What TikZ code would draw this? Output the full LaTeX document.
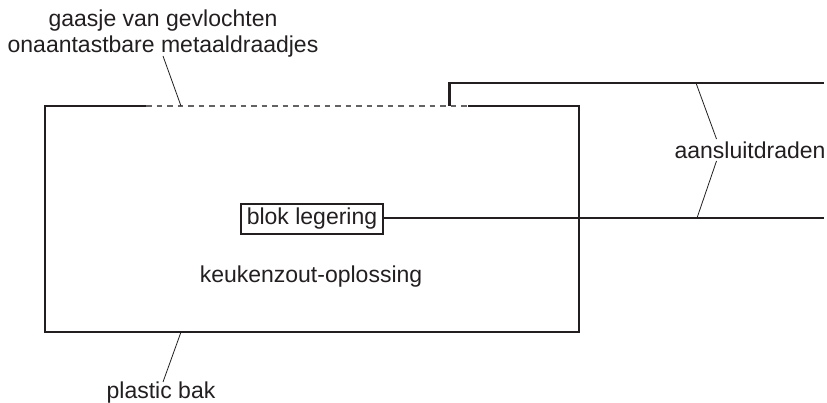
\documentclass[tikz,border=0pt]{standalone}
\usepackage{fontspec}
\setmainfont{Liberation Sans}
\usetikzlibrary{positioning}
\definecolor{inkt}{HTML}{231F20}

\begin{document}
\begin{tikzpicture}[x=1pt,y=-1pt,color=inkt,
                wand/.style={line width=1.4pt},
                draad/.style={line width=2.3pt},
                wijzer/.style={line width=0.8pt},
                gaas/.style={line width=1.1pt,dash pattern=on 5.5pt off 5pt,color=inkt!70},
                label node/.style={inner sep=0pt,font=\fontsize{23}{28}\selectfont},
                blok node/.style={draw,line width=1.2pt,minimum width=142pt,minimum height=30pt,
                  inner sep=0pt,font=\fontsize{23}{28}\selectfont}]
  \useasboundingbox (0,0) rectangle (827,403);

  % bak
  \coordinate (lb) at (45,106);
  \coordinate (rb) at (579,106);
  \coordinate (lo) at (45,332);
  \coordinate (ro) at (579,332);
  \coordinate (gaas1) at (146,106);
  \coordinate (gaas2) at (468,106);
  \draw[wand,line join=miter] (gaas1) -- (lb) -- (lo) -- (ro) -- (rb) -- (gaas2);
  \draw[gaas] (gaas1) -- (gaas2);

  % teksten
  \node[label node] (gaasje) at (163,21) {gaasje van gevlochten};
  \node[label node] (metaal) [below=4pt of gaasje] {onaantastbare metaaldraadjes};
  \node[label node] (aansluit) at (750,150) {aansluitdraden};
  \node[label node] (zout) at (311,277) {keukenzout-oplossing};
  \node[label node] (plastic) at (161,393) {plastic bak};
  \node[blok node] (blok) at (312,219) {blok legering};

  % draden
  \coordinate (d1) at (449.5,106);
  \coordinate (d2) at (449.5,83);
  \coordinate (d3) at (824,83);
  \coordinate (d4) at (824,218);
  \coordinate (blokr) at (blok.east |- d4);
  \draw[draad,line join=miter] (d1) -- (d2) -- (d3);
  \draw[draad] (blokr) -- (d4);

  % wijzers
  \coordinate (w1) at (163,56);
  \coordinate (w2) at (181,106);
  \coordinate (w3) at (696,83);
  \coordinate (w4) at (716.5,139);
  \coordinate (w5) at (716.5,161);
  \coordinate (w6) at (697,218);
  \coordinate (w7) at (163,382);
  \coordinate (w8) at (181,332);
  \path[wijzer,draw]
    (w1) -- (w2)
    (w3) -- (w4)
    (w5) -- (w6)
    (w7) -- (w8);
\end{tikzpicture}
\end{document}
